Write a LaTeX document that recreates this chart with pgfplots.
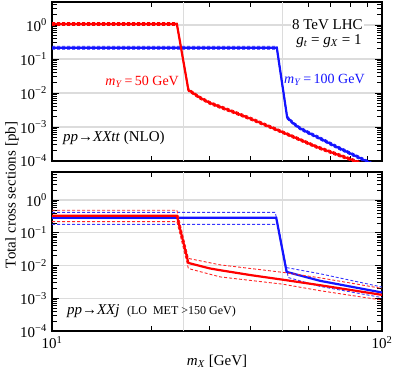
\documentclass[border=0pt]{standalone}
\usepackage{fontspec}
\setmainfont{Liberation Serif}
\usepackage{pgfplots}
\pgfplotsset{compat=1.18}
\definecolor{gridgray}{RGB}{220,220,220}
\definecolor{lred}{RGB}{255,0,0}
\definecolor{lblue}{RGB}{20,20,255}

\tikzset{
  solidl/.style={line width=2.2pt},
  dashl/.style={line width=0.9pt, dash pattern=on 3pt off 2pt},
}

\begin{document}
\fontsize{15}{18}\selectfont
\begin{tikzpicture}
% upper panel: pp -> XXtt
\begin{axis}[
    xmode=log, ymode=log, scale only axis, width=330pt, height=159pt,
    xmin=10, xmax=100, ymin=1e-4, ymax=4.75,
    at={(0,0)}, anchor=north west,
    xtick={10,100}, xticklabels={}, minor xtick={20,30,40,50,60,70,80,90},
    ytick={1e-4,1e-3,1e-2,1e-1,1},
    yticklabels={10\textsuperscript{−4},10\textsuperscript{−3},10\textsuperscript{−2},10\textsuperscript{−1},10\textsuperscript{0}},
    minor ytick={2e-4,3e-4,4e-4,5e-4,6e-4,7e-4,8e-4,9e-4,2e-3,3e-3,4e-3,5e-3,6e-3,7e-3,8e-3,9e-3,2e-2,3e-2,4e-2,5e-2,6e-2,7e-2,8e-2,9e-2,0.2,0.3,0.4,0.5,0.6,0.7,0.8,0.9,2,3,4},
    ymajorgrids, major grid style={gridgray, line width=1.3pt},
    extra x ticks={25,50}, extra x tick labels={},
    extra x tick style={grid=major, major tick length=0pt},
    tick align=inside, major tick length=7pt, minor tick length=5pt,
    tick style={black, line width=0.8pt},
    axis line style={line width=1.1pt},
    tick label style={font=\fontsize{15}{18}\selectfont},
  ]
\addplot[dashl, lblue] coordinates {(10,0.237)(48,0.237)(51.6,0.0021)(54,0.00138)(56.5,1.0e-3)(59.8,7.5e-4)(64.9,5.1e-4)(72.9,2.86e-4)(89.5,1.1e-4)(100,6.6e-5)};
\addplot[dashl, lblue] coordinates {(10,0.195)(48,0.195)(51.6,0.00173)(54,0.00114)(56.5,8.3e-4)(59.8,6.2e-4)(64.9,4.2e-4)(72.9,2.36e-4)(89.5,9.1e-5)(100,5.5e-5)};
\addplot[solidl, lblue] coordinates {(10,0.215)(48,0.215)(51.6,0.0019)(54,0.00125)(56.5,9.1e-4)(59.8,6.8e-4)(64.9,4.6e-4)(72.9,2.6e-4)(89.5,1.0e-4)(100,6.0e-5)};
\addplot[dashl, lred] coordinates {(10,1.18)(23.9,1.18)(25.9,0.0135)(28,0.0081)(30.1,0.0056)(35,0.0032)(40,0.00193)(50,7.7e-4)(63.4,2.86e-4)(82.8,1.1e-4)(100,5.5e-5)};
\addplot[dashl, lred] coordinates {(10,0.97)(23.9,0.97)(25.9,0.0112)(28,0.0067)(30.1,0.0046)(35,0.00264)(40,0.00159)(50,6.4e-4)(63.4,2.36e-4)(82.8,9.1e-5)(100,4.5e-5)};
\addplot[solidl, lred] coordinates {(10,1.07)(23.9,1.07)(25.9,0.0123)(28,0.0074)(30.1,0.0051)(35,0.0029)(40,0.00175)(50,7.0e-4)(63.4,2.6e-4)(82.8,1.0e-4)(100,5.0e-5)};
\node[anchor=east, fill=white, inner sep=1pt] at (rel axis cs:0.945,0.855) {8 TeV LHC};
\node[anchor=east, inner sep=1pt] at (rel axis cs:0.942,0.755) {\textit{g}\textsubscript{\textit{t}} = \textit{g}\textsubscript{\textit{X}} = 1};
\node[lblue, anchor=east, inner sep=0pt, font=\fontsize{14}{17}\selectfont] at (rel axis cs:0.948,0.509) {\textit{m}\textsubscript{\textit{Y}}\,=\,100 GeV};
\node[lred, anchor=east, inner sep=0pt, font=\fontsize{14}{17}\selectfont] at (rel axis cs:0.385,0.497) {\textit{m}\textsubscript{\textit{Y}}\,=\,50 GeV};
\node[anchor=west, inner sep=0pt] at (rel axis cs:0.033,0.145) {\textit{pp}→\textit{XXtt} (NLO)};
\end{axis}
% lower panel: pp -> XXj
\begin{axis}[
    xmode=log, ymode=log, scale only axis, width=330pt, height=159pt,
    xmin=10, xmax=100, ymin=1e-4, ymax=7.2,
    at={(0,-170pt)}, anchor=north west,
    xtick={10,100}, xticklabels={10\textsuperscript{1},10\textsuperscript{2}},
    minor xtick={20,30,40,50,60,70,80,90},
    ytick={1e-4,1e-3,1e-2,1e-1,1},
    yticklabels={10\textsuperscript{−4},10\textsuperscript{−3},10\textsuperscript{−2},10\textsuperscript{−1},10\textsuperscript{0}},
    minor ytick={2e-4,3e-4,4e-4,5e-4,6e-4,7e-4,8e-4,9e-4,2e-3,3e-3,4e-3,5e-3,6e-3,7e-3,8e-3,9e-3,2e-2,3e-2,4e-2,5e-2,6e-2,7e-2,8e-2,9e-2,0.2,0.3,0.4,0.5,0.6,0.7,0.8,0.9,2,3,4,5,6,7},
    ymajorgrids, major grid style={gridgray, line width=1.3pt},
    extra x ticks={25,50}, extra x tick labels={},
    extra x tick style={grid=major, major tick length=0pt},
    tick align=inside, major tick length=7pt, minor tick length=5pt,
    tick style={black, line width=0.8pt},
    axis line style={line width=1.1pt},
    tick label style={font=\fontsize{15}{18}\selectfont},
    xlabel={\textit{m}\textsubscript{\textit{X}} [GeV]},
    xlabel style={font=\fontsize{15}{18}\selectfont, yshift=4pt},
  ]
\addplot[dashl, lblue!85] coordinates {(10,0.42)(47.5,0.42)(51.2,0.0087)(65,0.0056)(100,0.0022)};
\addplot[dashl, lblue!85] coordinates {(10,0.18)(48.3,0.18)(52,0.0043)(65,0.0023)(100,0.00105)};
\addplot[solidl, lblue] coordinates {(10,0.29)(47.8,0.29)(51.4,0.0064)(65,0.0034)(100,0.0015)};
\addplot[dashl, lred!85] coordinates {(10,0.49)(23.9,0.49)(25.9,0.0165)(32.3,0.0105)(50,0.0062)(65,0.0042)(100,0.0020)};
\addplot[dashl, lred!85] coordinates {(10,0.22)(23.9,0.22)(25.9,0.0081)(32.3,0.0045)(50,0.0027)(65,0.0017)(100,0.00088)};
\addplot[solidl, lred] coordinates {(10,0.33)(23.9,0.33)(25.9,0.012)(30,0.0082)(32.3,0.0072)(40,0.0051)(50,0.0037)(65,0.0025)(100,0.00127)};
\node[anchor=west, inner sep=0pt] at (rel axis cs:0.045,0.126) {\textit{pp}→\textit{XXj}\ \ {\fontsize{12}{14}\selectfont (LO\ \ MET >150 GeV)}};
\end{axis}
\node[rotate=90] at (-40pt,-193pt) {Total cross sections [pb]};
\pgfresetboundingbox
\path[use as bounding box] (-52pt,2pt) rectangle (341pt,-372pt);
\end{tikzpicture}
\end{document}
